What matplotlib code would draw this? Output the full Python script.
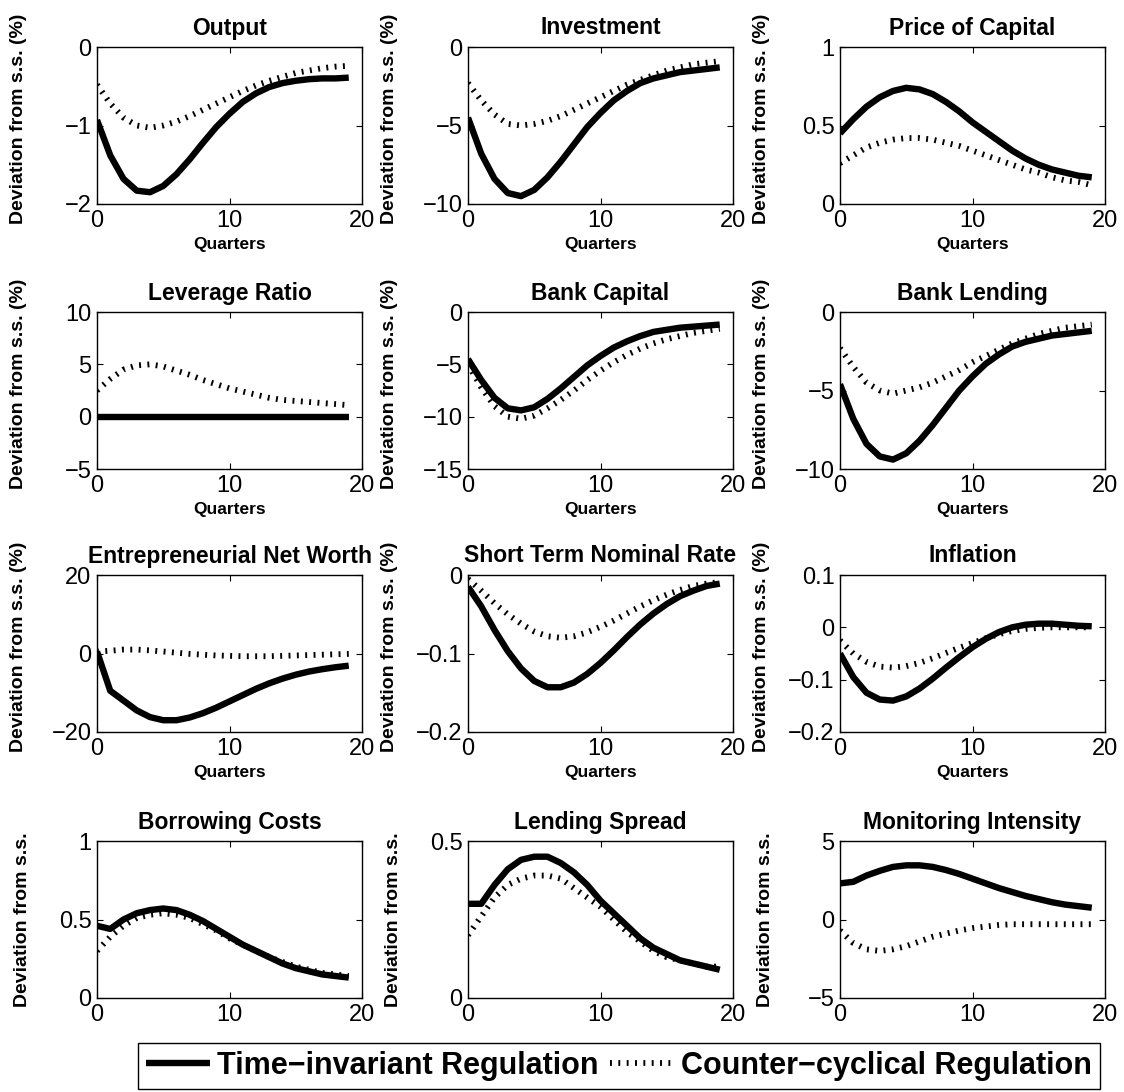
import numpy as np
import matplotlib
matplotlib.use('Agg')
import matplotlib.pyplot as plt
from matplotlib.ticker import FuncFormatter

plt.rcParams['font.family'] = ['Liberation Sans', 'DejaVu Sans']

quarters = np.arange(20)

titles = ['Output', 'Investment', 'Price of Capital',
          'Leverage Ratio', 'Bank Capital', 'Bank Lending',
          'Entrepreneurial Net Worth', 'Short Term Nominal Rate', 'Inflation',
          'Borrowing Costs', 'Lending Spread', 'Monitoring Intensity']

y_limits = [(-2, 0), (-10, 0), (0, 1),
            (-5, 10), (-15, 0), (-10, 0),
            (-20, 20), (-0.2, 0), (-0.2, 0.1),
            (0, 1), (0, 0.5), (-5, 5)]

y_ticks = [[-2, -1, 0], [-10, -5, 0], [0, 0.5, 1],
           [-5, 0, 5, 10], [-15, -10, -5, 0], [-10, -5, 0],
           [-20, 0, 20], [-0.2, -0.1, 0], [-0.2, -0.1, 0, 0.1],
           [0, 0.5, 1], [0, 0.5], [-5, 0, 5]]

# Time-invariant regulation (solid)
fixed_reg = [
    [-0.93, -1.38, -1.68, -1.83, -1.85, -1.77, -1.62, -1.43, -1.22, -1.02,
     -0.85, -0.70, -0.59, -0.51, -0.46, -0.43, -0.41, -0.40, -0.40, -0.39],
    [-4.5, -6.8, -8.4, -9.3, -9.5, -9.1, -8.3, -7.3, -6.2, -5.1,
     -4.2, -3.4, -2.8, -2.3, -2.0, -1.8, -1.6, -1.5, -1.4, -1.3],
    [0.45, 0.54, 0.62, 0.68, 0.72, 0.74, 0.73, 0.70, 0.65, 0.59,
     0.52, 0.46, 0.40, 0.34, 0.29, 0.25, 0.22, 0.20, 0.18, 0.17],
    [0.0] * 20,
    [-4.5, -6.5, -8.2, -9.2, -9.4, -9.1, -8.3, -7.3, -6.2, -5.1,
     -4.2, -3.4, -2.8, -2.3, -1.9, -1.7, -1.5, -1.4, -1.3, -1.2],
    [-4.6, -6.8, -8.4, -9.2, -9.4, -9.0, -8.2, -7.2, -6.1, -5.0,
     -4.1, -3.3, -2.7, -2.2, -1.9, -1.7, -1.5, -1.4, -1.3, -1.2],
    [0.5, -9.5, -12.0, -14.5, -16.2, -17.0, -17.0, -16.3, -15.2, -13.8,
     -12.2, -10.6, -9.0, -7.6, -6.4, -5.4, -4.6, -4.0, -3.5, -3.1],
    [-0.015, -0.04, -0.07, -0.097, -0.119, -0.135, -0.143, -0.143, -0.137, -0.126,
     -0.112, -0.096, -0.079, -0.063, -0.049, -0.037, -0.027, -0.020, -0.014, -0.011],
    [-0.05, -0.095, -0.125, -0.138, -0.140, -0.132, -0.117, -0.098, -0.077, -0.057,
     -0.038, -0.022, -0.009, 0.0, 0.005, 0.007, 0.007, 0.005, 0.003, 0.002],
    [0.46, 0.44, 0.50, 0.54, 0.56, 0.57, 0.56, 0.53, 0.49, 0.44,
     0.39, 0.34, 0.30, 0.26, 0.22, 0.19, 0.17, 0.15, 0.14, 0.13],
    [0.30, 0.30, 0.36, 0.41, 0.44, 0.45, 0.45, 0.43, 0.40, 0.36,
     0.31, 0.27, 0.23, 0.19, 0.16, 0.14, 0.12, 0.11, 0.10, 0.09],
    [2.3, 2.4, 2.8, 3.1, 3.35, 3.45, 3.45, 3.35, 3.15, 2.9,
     2.6, 2.3, 2.0, 1.75, 1.5, 1.3, 1.1, 0.95, 0.85, 0.75],
]

# Counter-cyclical regulation (dotted)
cc_reg = [
    [-0.48, -0.72, -0.90, -1.00, -1.03, -1.00, -0.95, -0.88, -0.80, -0.72,
     -0.64, -0.56, -0.49, -0.43, -0.38, -0.33, -0.30, -0.27, -0.25, -0.24],
    [-2.3, -3.4, -4.3, -4.9, -5.0, -4.9, -4.7, -4.4, -4.0, -3.6,
     -3.2, -2.8, -2.4, -2.1, -1.8, -1.5, -1.3, -1.1, -1.0, -0.9],
    [0.26, 0.31, 0.36, 0.39, 0.41, 0.42, 0.42, 0.41, 0.39, 0.37,
     0.34, 0.31, 0.28, 0.25, 0.22, 0.20, 0.17, 0.15, 0.14, 0.12],
    [2.5, 3.6, 4.5, 4.9, 5.0, 4.8, 4.4, 4.0, 3.5, 3.1,
     2.7, 2.4, 2.1, 1.8, 1.6, 1.5, 1.4, 1.3, 1.2, 1.1],
    [-5.0, -7.2, -9.0, -10.0, -10.2, -9.9, -9.2, -8.4, -7.5, -6.5,
     -5.6, -4.8, -4.1, -3.5, -3.0, -2.6, -2.3, -2.0, -1.8, -1.6],
    [-2.3, -3.5, -4.5, -5.0, -5.2, -5.0, -4.8, -4.5, -4.1, -3.7,
     -3.2, -2.8, -2.4, -2.0, -1.7, -1.4, -1.2, -1.0, -0.9, -0.8],
    [0.5, 0.7, 1.0, 1.0, 0.8, 0.5, 0.2, -0.1, -0.3, -0.5,
     -0.6, -0.7, -0.7, -0.7, -0.6, -0.5, -0.4, -0.3, -0.2, -0.1],
    [-0.005, -0.020, -0.036, -0.050, -0.062, -0.072, -0.078, -0.080, -0.078, -0.073,
     -0.066, -0.058, -0.049, -0.040, -0.032, -0.025, -0.019, -0.014, -0.011, -0.009],
    [-0.025, -0.050, -0.066, -0.075, -0.077, -0.074, -0.068, -0.059, -0.049, -0.039,
     -0.030, -0.021, -0.013, -0.007, -0.003, -0.001, 0.0, 0.0, 0.0, 0.0],
    [0.30, 0.39, 0.46, 0.51, 0.53, 0.54, 0.53, 0.51, 0.47, 0.43,
     0.38, 0.34, 0.30, 0.26, 0.23, 0.20, 0.18, 0.16, 0.15, 0.14],
    [0.20, 0.26, 0.32, 0.36, 0.38, 0.39, 0.39, 0.38, 0.35, 0.32,
     0.29, 0.25, 0.21, 0.18, 0.15, 0.13, 0.12, 0.11, 0.10, 0.10],
    [-0.7, -1.5, -1.9, -2.0, -1.9, -1.7, -1.4, -1.1, -0.9, -0.7,
     -0.55, -0.45, -0.35, -0.3, -0.3, -0.3, -0.3, -0.3, -0.3, -0.3],
]

W, H = 1124, 1092
fig = plt.figure(figsize=(W / 100, H / 100), dpi=100)

col_left = [97, 468, 840]
row_top = [47, 312, 575, 841]
ax_w, ax_h = 265, 157

solid_kw = dict(color='black', lw=4.6, solid_capstyle='butt')
dot_kw = dict(color='black', lw=4.2, ls=(0, (0.33, 1.1)), dash_capstyle='butt')

# matlab-like tick labels: 0, 0.5, 1 and a real minus sign
fmt = FuncFormatter(lambda v, pos: f'{v:g}'.replace('-', '\u2212'))

for i, title in enumerate(titles):
    r, c = divmod(i, 3)
    ax = fig.add_axes([col_left[c] / W, 1 - (row_top[r] + ax_h) / H, ax_w / W, ax_h / H])
    h1, = ax.plot(quarters, fixed_reg[i], zorder=3, **solid_kw)
    h2, = ax.plot(quarters, cc_reg[i], zorder=2, **dot_kw)

    ax.set_xlim(0, 20)
    ax.set_ylim(*y_limits[i])
    ax.set_xticks([0, 10, 20])
    ax.set_yticks(y_ticks[i])
    ax.xaxis.set_major_formatter(fmt)
    ax.yaxis.set_major_formatter(fmt)
    ax.tick_params(direction='in', top=True, right=True, length=4, width=0.8,
                   labelsize=17, pad=4)
    for sp in ax.spines.values():
        sp.set_linewidth(1.0)
    ax.set_title(title, fontsize=16.5, fontweight='bold', pad=9)
    if r < 3:
        ax.set_xlabel('Quarters', fontsize=12.5, fontweight='bold', labelpad=4)
        ax.set_ylabel('Deviation from s.s. (%)', fontsize=14, fontweight='bold')
        ax.yaxis.set_label_coords(-0.265, 0.54)
    else:
        ax.set_ylabel('Deviation from s.s.', fontsize=14, fontweight='bold')
        ax.yaxis.set_label_coords(-0.25, 0.5)

leg = fig.legend([h1, h2], ['Time\u2212invariant Regulation', 'Counter\u2212cyclical Regulation'],
                 ncol=2, loc='center', bbox_to_anchor=(619 / W, 1 - 1066 / H),
                 prop={'size': 22, 'weight': 'bold'}, frameon=True, fancybox=False,
                 edgecolor='black', framealpha=1, handlelength=2.1, handletextpad=0.25,
                 columnspacing=0.35, borderpad=0.25, borderaxespad=0)
leg.get_frame().set_linewidth(1.0)

plt.savefig('out.png', dpi=100)
